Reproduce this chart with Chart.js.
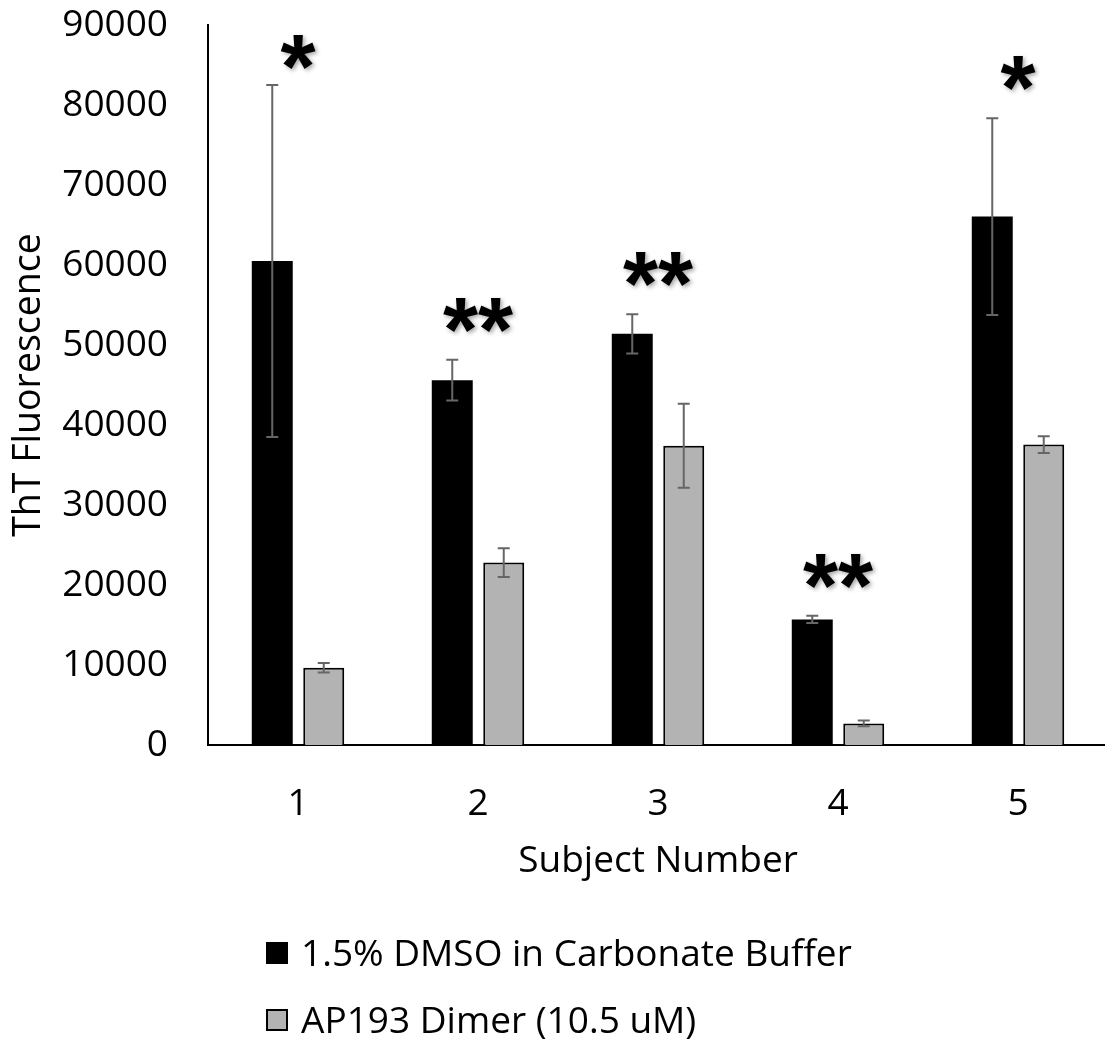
<!DOCTYPE html>
<html>
<head>
<meta charset="utf-8">
<script src="https://cdn.jsdelivr.net/npm/chart.js@4.4.1/dist/chart.umd.min.js"></script>
<style>
  html, body { margin: 0; padding: 0; overflow: hidden; background: #fff; }
  #wrap { position: relative; width: 1108px; height: 1042px; }
  .leg { position: absolute; font-family: "Open Sans", sans-serif; font-size: 37px; color: #000; line-height: 44px; white-space: nowrap; }
  .box { position: absolute; width: 22px; height: 22px; box-sizing: border-box; }
</style>
</head>
<body>
<div id="wrap">
  <canvas id="c"></canvas>
  <div id="legend"></div>
</div>
<script>
// ---- data ----
const categories = ['1', '2', '3', '4', '5'];
const seriesNames = ['1.5% DMSO in Carbonate Buffer', 'AP193 Dimer (10.5 uM)'];
const dmsoValues = [60500, 45600, 51400, 15700, 66050];
const dmsoErrors = [22000, 2550, 2450, 450, 12300];
const dimerValues = [9650, 22800, 37400, 2700, 37550];
const dimerErrors = [600, 1800, 5250, 350, 1050];
const significance = ['*', '**', '**', '**', '*'];
const yTicks = [0, 10000, 20000, 30000, 40000, 50000, 60000, 70000, 80000, 90000];

const FONT = '"Open Sans", sans-serif';

const errorBarPlugin = {
  id: 'errorBars',
  afterDatasetsDraw(chart) {
    const ctx = chart.ctx;
    const y = chart.scales.y;
    chart.data.datasets.forEach((ds, di) => {
      const meta = chart.getDatasetMeta(di);
      meta.data.forEach((bar, i) => {
        const v = ds.data[i], e = ds.errors[i];
        const yt = y.getPixelForValue(v + e);
        const yb = y.getPixelForValue(v - e);
        ctx.save();
        ctx.strokeStyle = '#666666';
        ctx.lineWidth = 2;
        ctx.beginPath();
        ctx.moveTo(bar.x, yt); ctx.lineTo(bar.x, yb);
        ctx.moveTo(bar.x - 6, yt); ctx.lineTo(bar.x + 6, yt);
        ctx.moveTo(bar.x - 6, yb); ctx.lineTo(bar.x + 6, yb);
        ctx.stroke();
        ctx.restore();
      });
    });
  }
};

const sigPlugin = {
  id: 'sigMarks',
  afterDatasetsDraw(chart) {
    const ctx = chart.ctx;
    const x = chart.scales.x, y = chart.scales.y;
    const ds = chart.data.datasets[0];
    significance.forEach((mark, i) => {
      const cx = x.getPixelForValue(i);
      let cy = y.getPixelForValue(ds.data[i] + ds.errors[i]) - 40;
      cy = Math.max(cy, chart.chartArea.top + 32);
      ctx.save();
      ctx.font = 'bold 90px "Liberation Sans", sans-serif';
      ctx.textAlign = 'center';
      ctx.textBaseline = 'alphabetic';
      ctx.fillStyle = '#000';
      ctx.shadowColor = 'rgba(0,0,0,0.35)';
      ctx.shadowBlur = 4;
      ctx.shadowOffsetX = 2;
      ctx.shadowOffsetY = 2;
      ctx.fillText(mark, cx, cy + 41);
      ctx.restore();
    });
  }
};

const chart = new Chart(document.getElementById('c'), {
  type: 'bar',
  data: {
    labels: categories,
    datasets: [
      { label: seriesNames[0], data: dmsoValues, errors: dmsoErrors,
        backgroundColor: '#000000', borderColor: '#000000', borderWidth: 0,
        categoryPercentage: 0.572, barPercentage: 0.796 },
      { label: seriesNames[1], data: dimerValues, errors: dimerErrors,
        backgroundColor: '#b3b3b3', borderColor: '#000000', borderWidth: 2,
        categoryPercentage: 0.572, barPercentage: 0.796 }
    ]
  },
  options: {
    responsive: true,
    maintainAspectRatio: false,
    animation: false,
    layout: { padding: { top: 0, left: 0, right: 0, bottom: 158 } },
    plugins: { legend: { display: false }, tooltip: { enabled: false } },
    scales: {
      x: {
        afterFit(scale) { scale.height = 139; },
        grid: { display: false, drawTicks: false, tickLength: 0 },
        border: { display: true, color: '#000', width: 2 },
        ticks: { color: '#000', font: { family: FONT, size: 37 }, padding: 37 },
        title: { display: true, text: 'Subject Number', color: '#000',
                 font: { family: FONT, size: 37 }, padding: { top: 15, bottom: 0 } }
      },
      y: {
        min: 0, max: 90000,
        afterFit(scale) { scale.width = 208; scale.paddingTop = 25; scale.paddingBottom = 0; },
        afterBuildTicks(scale) { scale.ticks = yTicks.map(v => ({ value: v })); },
        grid: { display: false, drawTicks: false, tickLength: 0 },
        border: { display: true, color: '#000', width: 2 },
        ticks: { color: '#000', font: { family: FONT, size: 37 }, padding: 40,
                 callback: v => String(v) },
        title: { display: true, text: 'ThT Fluorescence', color: '#000',
                 font: { family: FONT, size: 37.5 }, padding: { top: 7, bottom: 0 } }
      }
    }
  },
  plugins: [errorBarPlugin, sigPlugin]
});

// legend (HTML, built from datasets)
const legendEl = document.getElementById('legend');
const legTops = [930, 997];
chart.data.datasets.forEach((ds, i) => {
  const box = document.createElement('div');
  box.className = 'box';
  box.style.left = '266px';
  box.style.top = (legTops[i] + 12) + 'px';
  box.style.background = ds.backgroundColor;
  box.style.border = ds.borderWidth ? ds.borderWidth + 'px solid ' + ds.borderColor : 'none';
  legendEl.appendChild(box);
  const t = document.createElement('div');
  t.className = 'leg';
  t.style.left = '301px';
  t.style.top = legTops[i] + 'px';
  t.textContent = ds.label;
  legendEl.appendChild(t);
});
</script>
</body>
</html>
